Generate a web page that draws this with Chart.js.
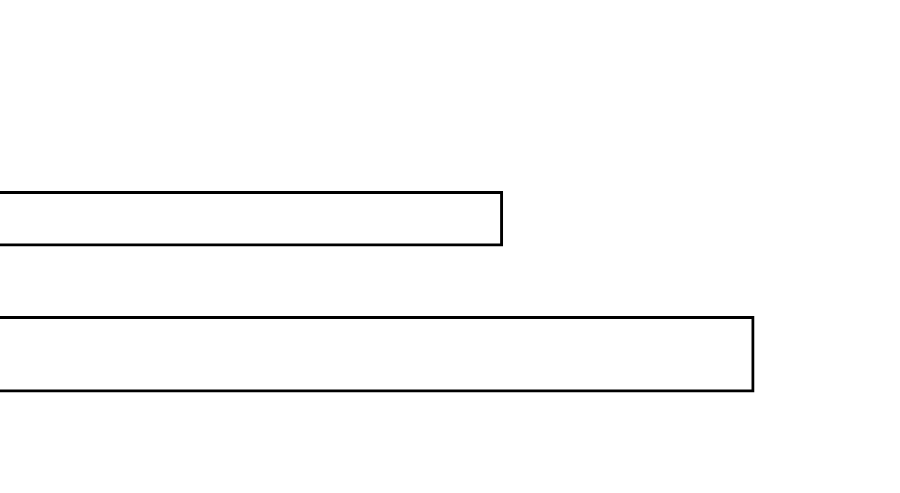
<!DOCTYPE html>
<html>
<head>
<meta charset="utf-8">
<title>Bars</title>
<script src="https://cdn.jsdelivr.net/npm/chart.js@4"></script>
<style>
  html, body { margin: 0; padding: 0; background: #fff; }
  #chart { display: block; }
</style>
</head>
<body>
<canvas id="chart" width="900" height="493"></canvas>
<script>
// two rows, both cut off at the left edge of the picture
const categories = ['A', 'B'];
const valuesA = [20, null];
const valuesB = [null, 30];
const xMax = 35.8;

const ctx = document.getElementById('chart').getContext('2d');
new Chart(ctx, {
  type: 'bar',
  data: {
    labels: categories,
    datasets: [
      {
        data: valuesA,
        backgroundColor: '#ffffff',
        borderColor: '#000000',
        borderWidth: 3,
        barThickness: 55,
        grouped: false,
      },
      {
        data: valuesB,
        backgroundColor: '#ffffff',
        borderColor: '#000000',
        borderWidth: 3,
        barThickness: 76,
        grouped: false,
      },
    ],
  },
  options: {
    indexAxis: 'y',
    responsive: false,
    animation: false,
    devicePixelRatio: 1,
    layout: { padding: { top: 151, bottom: 71, left: 0, right: 0 } },
    scales: {
      x: { min: 0, max: xMax, display: false },
      y: { display: false },
    },
    plugins: {
      legend: { display: false },
      tooltip: { enabled: false },
    },
  },
});
</script>
</body>
</html>
